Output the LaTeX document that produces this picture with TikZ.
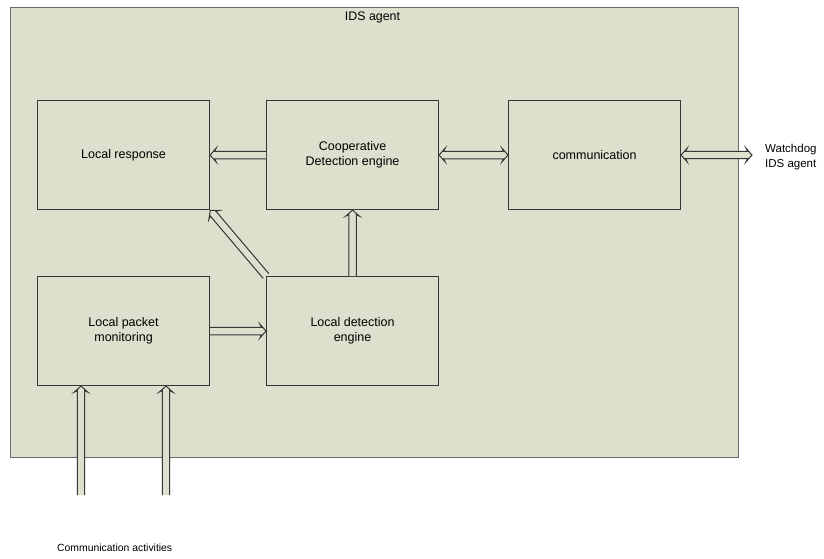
\documentclass[tikz,border=0pt]{standalone}
\usepackage{fontspec}
\setmainfont{Liberation Sans}
\usetikzlibrary{calc}
\definecolor{bgc}{RGB}{221,224,204}
\definecolor{edgec}{RGB}{55,55,55}
\definecolor{outerc}{RGB}{105,105,105}
\tikzset{
  blk/.style={draw=edgec, line width=1.1pt, fill=bgc, minimum width=172pt, minimum height=109pt, inner sep=0pt, align=center, font=\fontsize{12.5}{15}\selectfont},
  arrline/.style={draw=edgec, line width=1.0pt, line join=miter},
  lbl/.style={inner sep=0pt, align=left}
}
% one-headed hollow arrow from #1 to #2
\newcommand{\onearrow}[2]{%
  \path[fill=bgc] let \p1=(#1), \p2=(#2), \n1={atan2(\y2-\y1,\x2-\x1)}, \n2={veclen(\x2-\x1,\y2-\y1)} in
    [shift={(\p1)}, rotate=\n1]
    (0,-3.7) -- (\n2-4.5,-3.7) -- (\n2-6,-6.8) -- (\n2,0) -- (\n2-6,6.8) -- (\n2-4.5,3.7) -- (0,3.7) -- cycle;
  \path[arrline] let \p1=(#1), \p2=(#2), \n1={atan2(\y2-\y1,\x2-\x1)}, \n2={veclen(\x2-\x1,\y2-\y1)} in
    [shift={(\p1)}, rotate=\n1]
    (0,-3.7) -- (\n2-4.5,-3.7) -- (\n2-6,-6.8) -- (\n2,0) -- (\n2-6,6.8) -- (\n2-4.5,3.7) -- (0,3.7);
}
% two-headed hollow arrow between #1 and #2
\newcommand{\twoarrow}[2]{%
  \path[fill=bgc, arrline] let \p1=(#1), \p2=(#2), \n1={atan2(\y2-\y1,\x2-\x1)}, \n2={veclen(\x2-\x1,\y2-\y1)} in
    [shift={(\p1)}, rotate=\n1]
    (4.5,-3.7) -- (\n2-4.5,-3.7) -- (\n2-6,-6.8) -- (\n2,0) -- (\n2-6,6.8) -- (\n2-4.5,3.7)
    -- (4.5,3.7) -- (6,6.8) -- (0,0) -- (6,-6.8) -- cycle;
}
\begin{document}
\begin{tikzpicture}[x=1pt,y=-1pt]
\useasboundingbox (0,0) rectangle (824,559);
\fill[white] (0,0) rectangle (824,559);
\node[draw=outerc, line width=1.4pt, fill=bgc, minimum width=728pt, minimum height=450pt, inner sep=0pt, anchor=north west] (outer) at (10,7) {};
\node[lbl, font=\fontsize{12.4}{15}\selectfont] (title) at (372.5,17.5) {IDS agent};
\node[blk, anchor=north west] (resp) at (37,100) {Local response};
\node[blk, anchor=north west] (coop) at (266,100) {Cooperative\\Detection engine};
\node[blk, anchor=north west] (comm) at (508,100) {communication};
\node[blk, anchor=north west] (pkt) at (37,276) {Local packet\\monitoring};
\node[blk, anchor=north west] (det) at (266,276) {Local detection\\engine};
\node[lbl, anchor=west, font=\fontsize{11.5}{15}\selectfont] (wd) at (765,157) {Watchdog\\IDS agent};
\coordinate (wdin) at (752,155);
\node[lbl, anchor=west, font=\fontsize{10.4}{12}\selectfont] (ca) at (57,548) {Communication activities};
\coordinate (in1) at (81,495);
\coordinate (in2) at (166,495);
\onearrow{coop.west}{resp.east}
\twoarrow{coop.east}{comm.west}
\twoarrow{comm.east}{wdin}
\onearrow{det.north}{coop.south}
\onearrow{det.north west}{resp.south east}
\onearrow{pkt.east}{det.west}
\onearrow{in1}{in1 |- pkt.south}
\onearrow{in2}{in2 |- pkt.south}
\end{tikzpicture}
\end{document}
